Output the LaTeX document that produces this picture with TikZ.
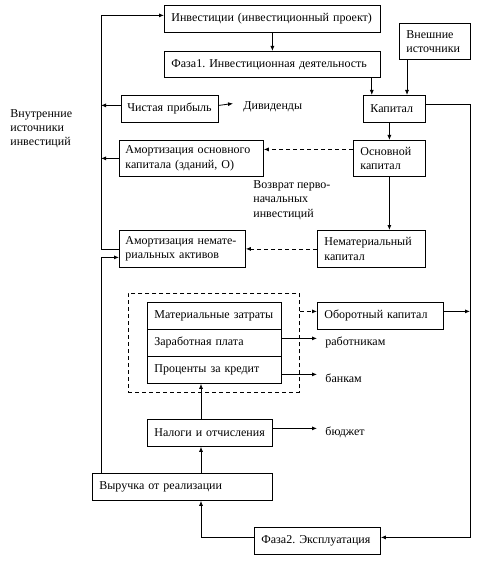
\documentclass[tikz,border=0pt]{standalone}
\usepackage{fontspec}
\setmainfont{Liberation Serif}
\frenchspacing
\usetikzlibrary{arrows.meta}
\begin{document}
\begin{tikzpicture}[x=1pt,y=-1pt, line width=0.8pt, >={Latex[length=5pt,width=4pt]},
  box/.style={draw, anchor=north west, inner xsep=7pt, inner ysep=0pt, align=left, font=\fontsize{12}{14.5}\selectfont},
  lbl/.style={inner sep=0pt, align=left, font=\fontsize{12}{14.5}\selectfont},
  dsh/.style={dash pattern=on 4pt off 3pt}]
\useasboundingbox (0,0) rectangle (487,561);
% boxes
\node[box, minimum height=27pt, text width=202pt] (inv) at (164,5) {Инвестиции (инвестиционный проект)};
\node[box, minimum height=26pt, text width=202pt] (faza1) at (164,51) {Фаза1. Инвестиционная деятельность};
\node[box, minimum height=36pt, text width=57pt] (vnesh) at (399,23) {Внешние\\источники};
\node[box, minimum height=27pt, text width=85pt, inner xsep=6pt] (chp) at (121,95) {Чистая прибыль};
\node[box, minimum height=27pt, text width=48pt] (kap) at (363,95) {Капитал};
\node[box, minimum height=36pt, text width=132pt, inner xsep=6pt] (amo) at (119,140) {Амортизация основного\\капитала (зданий, О)};
\node[box, minimum height=36pt, text width=58pt] (osn) at (353,140) {Основной\\капитал};
\node[box, minimum height=37pt, text width=114pt, inner xsep=6pt] (amn) at (119,230) {Амортизация немате-\\риальных активов};
\node[box, minimum height=37pt, text width=94pt] (nem) at (317,230) {Нематериальный\\капитал};
\node[draw, dsh, anchor=north west, minimum width=171pt, minimum height=99pt, inner sep=0pt] (dbox) at (128,293) {};
\node[box, minimum height=27pt, text width=120pt] (r1) at (147,302) {Материальные затраты};
\node[box, minimum height=27pt, text width=120pt] (r2) at (147,329) {Заработная плата};
\node[box, minimum height=27pt, text width=120pt] (r3) at (147,356) {Проценты за кредит};
\node[box, minimum height=27pt, text width=112pt] (obk) at (317,302) {Оборотный капитал};
\node[box, minimum height=27pt, text width=111pt] (nal) at (147,419) {Налоги и отчисления};
\node[box, minimum height=27pt, text width=166pt] (vyr) at (92,473) {Выручка от реализации};
\node[box, minimum height=27pt, text width=112pt] (faza2) at (254,527) {Фаза2. Эксплуатация};
% free labels
\node[lbl, anchor=west] (div) at (243,107) {Дивиденды};
\node[lbl, anchor=north west] (vozv) at (253,180) {Возврат перво-\\начальных\\инвестиций};
\node[lbl, anchor=north west, font=\fontsize{12}{14}\selectfont] (vnutr) at (10,109) {Внутренние\\источники\\инвестиций};
\node[lbl, anchor=west] (rab) at (325,342) {работникам};
\node[lbl, anchor=west] (ban) at (325,378) {банкам};
\node[lbl, anchor=west] (bud) at (325,432) {бюджет};
% helper coordinates
\coordinate (L) at (101,0);
\coordinate (R) at (470,0);
\coordinate (A) at (317,0);
\coordinate (C) at (201,0);
% connectors
\draw[->] (inv.south) -- (faza1.north);
\draw[->] ([xshift=-9pt]faza1.south east) -- ([xshift=-9pt]faza1.south east |- kap.north);
\draw[->] ([xshift=8pt]vnesh.south west) -- ([xshift=8pt]vnesh.south west |- kap.north);
\draw[->] ([yshift=4.5pt]kap.east) -- ([yshift=4.5pt]kap.east -| R) |- ([yshift=3.5pt]faza2.east);
\draw[->] (osn.north |- kap.south) -- (osn.north);
\draw[->] (osn.south) -- (osn.south |- nem.north);
\draw[dsh,->] ([yshift=9pt]osn.west) -- ([yshift=9pt]osn.west -| amo.east);
\draw[dsh,->] (nem.west) -- (nem.west -| amn.east);
\draw[->] ([yshift=3.5pt]chp.east) -- ([yshift=3.5pt,xshift=-10pt]div.west);
\draw[->] ([yshift=3.5pt]chp.west) -- ([yshift=3.5pt]chp.west -| L);
\draw[->] (amo.west) -- (amo.west -| L);
\draw[->] (amn.west) -- (amn.west -| L) -- ([yshift=3.5pt]inv.west -| L) -- ([yshift=3.5pt]inv.west);
\draw[->] (vyr.north -| L) -- ([yshift=-8.5pt]amn.west -| L) -- ([yshift=-8.5pt]amn.west);
\draw[->] (vyr.north -| C) -- (nal.south -| C);
\draw[->] (nal.north -| C) -- (r3.south -| C);
\draw[->] ([yshift=3.5pt]faza2.west) -| (vyr.south -| C);
\draw[->] ([yshift=4.5pt]nal.east) -- ([yshift=4.5pt]nal.east -| A);
\draw[->] ([yshift=4.5pt]r2.east) -- ([yshift=4.5pt]r2.east -| A);
\draw[->] ([yshift=-4.5pt]r3.east) -- ([yshift=-4.5pt]r3.east -| A);
\draw[dsh,->] ([yshift=4.5pt]obk.west -| dbox.east) -- ([yshift=4.5pt]obk.west);
\draw[->] ([yshift=4.5pt]obk.east) -- ([yshift=4.5pt]obk.east -| R);
\end{tikzpicture}
\end{document}
